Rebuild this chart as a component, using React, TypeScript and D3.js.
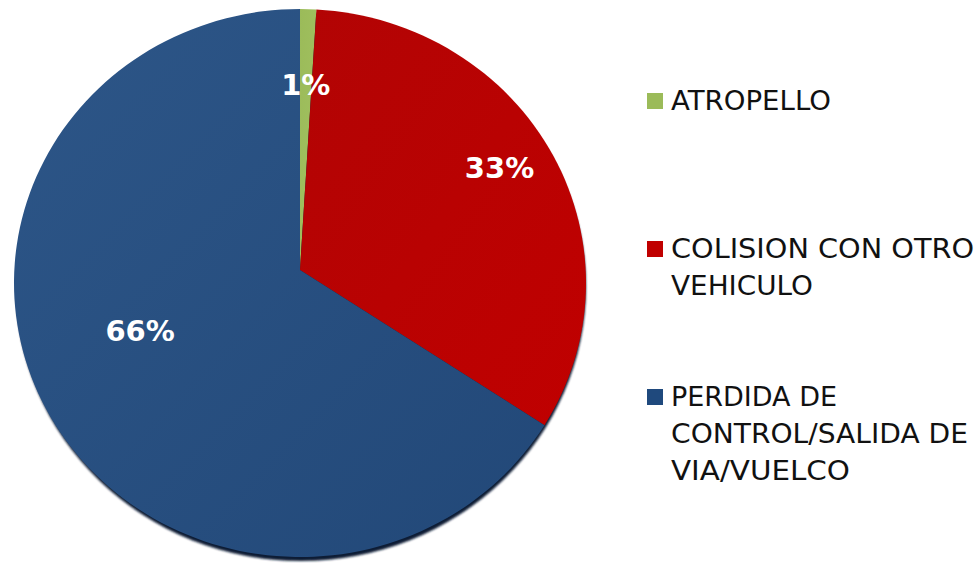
import React from 'react';
import * as d3 from 'd3';

const categories = ["ATROPELLO", "COLISION CON OTRO VEHICULO", "PERDIDA DE CONTROL/SALIDA DE VIA/VUELCO"];
const values = [1, 33, 66];
const legendLines = [["ATROPELLO"], ["COLISION CON OTRO", "VEHICULO"], ["PERDIDA DE", "CONTROL/SALIDA DE", "VIA/VUELCO"]];
const legendWidths = [[160], [303, 142], [166, 297, 179]];
const swatchColors = ["#9BBB59", "#C00000", "#1F497D"];
const sliceGradients = [["#9BBB59", "#A2C161"], ["#B20404", "#C00000"], ["#2D5688", "#224878"]];

const W = 978;
const H = 564;
// pie drawn as a slightly tilted ellipse, the slice vertex sits above its geometric centre
const ell = { cx: 300, cy: 283, rx: 286, ry: 274 };
const vertex = { x: 300, y: 270 };
const labelR = [185, 224, 171];
const labelShift = [0, 0, 0.14];

function rayHit(angle: number) {
  const dx = Math.sin(angle);
  const dy = -Math.cos(angle);
  const ox = (vertex.x - ell.cx) / ell.rx;
  const oy = (vertex.y - ell.cy) / ell.ry;
  const ux = dx / ell.rx;
  const uy = dy / ell.ry;
  const a = ux * ux + uy * uy;
  const b = 2 * (ox * ux + oy * uy);
  const c = ox * ox + oy * oy - 1;
  const t = (-b + Math.sqrt(b * b - 4 * a * c)) / (2 * a);
  return [vertex.x + dx * t, vertex.y + dy * t];
}

function slicePath(s: d3.PieArcDatum<number>) {
  const p0 = rayHit(s.startAngle);
  const p1 = rayHit(s.endAngle);
  const large = s.endAngle - s.startAngle > Math.PI ? 1 : 0;
  return `M${vertex.x},${vertex.y}L${p0[0]},${p0[1]}A${ell.rx},${ell.ry} 0 ${large} 1 ${p1[0]},${p1[1]}Z`;
}

export default function App() {
  const pie = d3.pie<number>().sort(null).value(d => d);
  const arcs = pie(values);
  const font = "'DejaVu Sans', sans-serif";

  return (
    <div style={{ position: 'absolute', left: 0, top: 0 }}>
      <svg width={W} height={H} viewBox={`0 0 ${W} ${H}`} style={{ display: 'block', background: '#fff' }}>
        <defs>
          {sliceGradients.map((g, i) => (
            <linearGradient key={i} id={`sg${i}`} x1="0" y1="0" x2="1" y2="1">
              <stop offset="0%" stopColor={g[0]} />
              <stop offset="100%" stopColor={g[1]} />
            </linearGradient>
          ))}
          <filter id="soft" x="-5%" y="-5%" width="110%" height="110%">
            <feGaussianBlur stdDeviation="0.8" />
          </filter>
        </defs>

        <ellipse cx={ell.cx + 1} cy={ell.cy + 4} rx={ell.rx - 1} ry={ell.ry} fill="#0D1D35" filter="url(#soft)" />

        {arcs.map((s, i) => (
          <path key={categories[i]} d={slicePath(s)} fill={`url(#sg${i})`} />
        ))}

        {arcs.map((s, i) => {
          const mid = (s.startAngle + s.endAngle) / 2 + labelShift[i];
          const x = vertex.x + labelR[i] * Math.sin(mid);
          const y = vertex.y - labelR[i] * Math.cos(mid);
          return (
            <text key={i} x={x} y={y} dy="0.35em" textAnchor="middle" fill="#fff"
              fontFamily={font} fontWeight="bold" fontSize={29}>
              {`${values[i]}%`}
            </text>
          );
        })}

        {legendLines.map((lines, i) => {
          const top = [93, 241, 389][i];
          return (
            <g key={categories[i]}>
              <rect x={647} y={top} width={16} height={16} fill={swatchColors[i]} />
              {lines.map((ln, j) => (
                <text key={j} x={671} y={top + 17 + j * 37} fontFamily={font} fontSize={27} fill="#111"
                  textLength={legendWidths[i][j]} lengthAdjust="spacingAndGlyphs">
                  {ln}
                </text>
              ))}
            </g>
          );
        })}
      </svg>
    </div>
  );
}
